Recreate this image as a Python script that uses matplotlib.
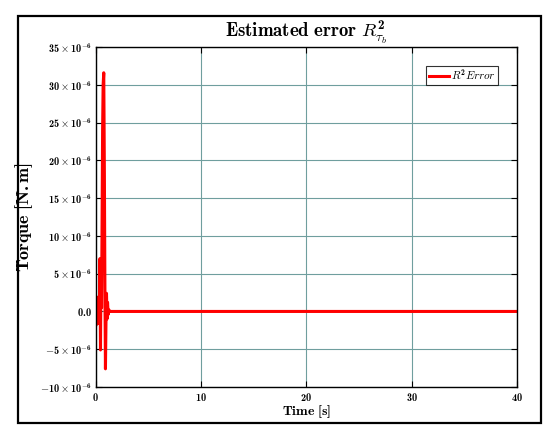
import matplotlib
matplotlib.use('Agg')
import matplotlib.pyplot as plt
import matplotlib.ticker as mticker
from matplotlib.patches import Rectangle

plt.rcParams['mathtext.fontset'] = 'custom'
plt.rcParams['mathtext.rm'] = 'cmb10'
plt.rcParams['mathtext.bf'] = 'cmb10'
plt.rcParams['mathtext.it'] = 'cmmi10'
plt.rcParams['mathtext.fallback'] = 'cm'
plt.rcParams['font.family'] = 'serif'
plt.rcParams['font.serif'] = ['cmb10', 'DejaVu Serif']
plt.rcParams['axes.formatter.use_mathtext'] = True

# estimated error trace (values in units of 1e-6)
time_s = [0.0, 0.05, 0.1, 0.15, 0.2, 0.25, 0.3, 0.35, 0.4, 0.45, 0.5, 0.55,
          0.6, 0.65, 0.7, 0.76, 0.82, 0.87, 0.92, 0.97, 1.02, 1.07, 1.12,
          1.18, 1.25, 1.35, 40.0]
err_e6 = [0.0, -1.8, 1.5, -1.6, 1.8, -1.2, 2.0, -1.6, 7.0, -5.1, 6.5, 0.5,
          12.0, 24.0, 30.0, 31.6, 18.0, 3.0, -7.6, -1.5, 2.4, -1.0, 1.2,
          -0.4, 0.2, 0.0, 0.0]
err = [v * 1e-6 for v in err_e6]

yticks = [v * 1e-6 for v in range(-10, 40, 5)]
xticks = [0, 10, 20, 30, 40]

fig = plt.figure(figsize=(5.6, 4.4), dpi=100)
ax = fig.add_axes([0.171, 0.1205, 0.752, 0.7725])

grid_col = '#6f9e9e'
ax.grid(True, color=grid_col, linewidth=0.8, linestyle='-')
ax.set_axisbelow(True)

ax.plot(time_s, err, color='red', linewidth=2.2, label=r'$R^2 Error$')

ax.set_xlim(0, 40)
ax.set_ylim(-10e-6, 35e-6)
ax.set_xticks(xticks)
ax.set_yticks(yticks)


def yfmt(v, pos):
    n = int(round(v * 1e6))
    if n == 0:
        return r'$0.0$'
    return r'$%d \times 10^{-6}$' % n


def xfmt(v, pos):
    return r'$%d$' % int(round(v))


ax.yaxis.set_major_formatter(mticker.FuncFormatter(yfmt))
ax.xaxis.set_major_formatter(mticker.FuncFormatter(xfmt))
ax.tick_params(labelsize=7.5, direction='in', length=4, width=0.8, pad=3,
               top=True, right=True)
for s in ax.spines.values():
    s.set_linewidth(1.0)

ax.set_title(r'$\mathrm{Estimated\ error}\ R^2_{\tau_b}$', fontsize=13.5, pad=7)
ax.set_xlabel(r'$\mathrm{Time\ [s]}$', fontsize=10, labelpad=0)
ax.set_ylabel(r'$\mathrm{Torque\ [N.m]}$', fontsize=13, labelpad=3)

leg = ax.legend(loc='upper right', fontsize=8, fancybox=False,
                handlelength=1.8, handletextpad=0.2, borderpad=0.2,
                borderaxespad=1.7)
leg.get_frame().set_edgecolor('black')
leg.get_frame().set_linewidth(0.8)

fig.patches.append(Rectangle((0.032, 0.0386), 0.934, 0.925,
                             transform=fig.transFigure, fill=False,
                             edgecolor='black', linewidth=1.6))

fig.savefig('out.png', dpi=100)
